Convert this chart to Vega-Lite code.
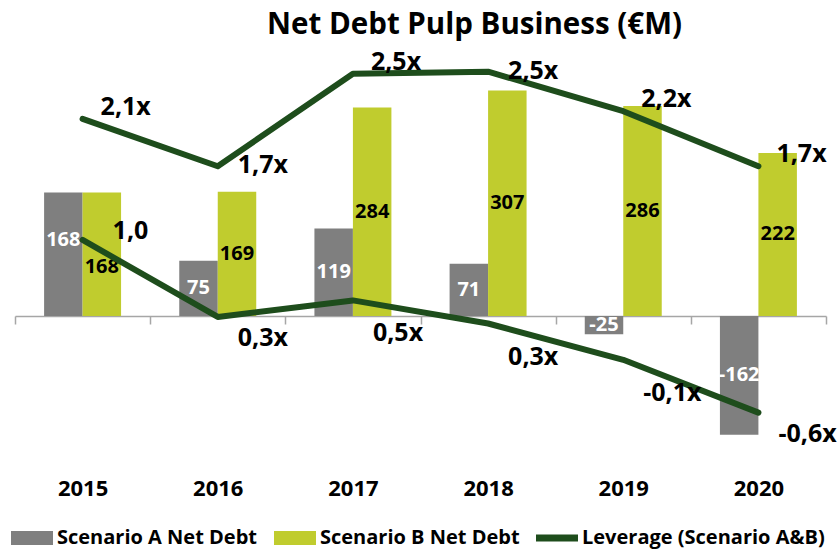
{
  "$schema": "https://vega.github.io/schema/vega-lite/v6.json",
  "width": 811,
  "height": 389,
  "autosize": {"type": "none"},
  "padding": {"left": 15, "top": 59, "right": 13, "bottom": 104},
  "background": "white",
  "title": {"text": "Net Debt Pulp Business (€M)", "font": "Open Sans", "fontSize": 29.5, "fontWeight": "bold", "color": "black", "anchor": "middle", "dx": 54, "offset": 9},
  "config": {"view": {"stroke": null}, "font": "Open Sans"},
  "datasets": {
    "debt": [
      {"year": "2015", "scenario": "A", "series": "Scenario A Net Debt", "value": 168},
      {"year": "2016", "scenario": "A", "series": "Scenario A Net Debt", "value": 75},
      {"year": "2017", "scenario": "A", "series": "Scenario A Net Debt", "value": 119},
      {"year": "2018", "scenario": "A", "series": "Scenario A Net Debt", "value": 71},
      {"year": "2019", "scenario": "A", "series": "Scenario A Net Debt", "value": -25},
      {"year": "2020", "scenario": "A", "series": "Scenario A Net Debt", "value": -162},
      {"year": "2015", "scenario": "B", "series": "Scenario B Net Debt", "value": 168},
      {"year": "2016", "scenario": "B", "series": "Scenario B Net Debt", "value": 169},
      {"year": "2017", "scenario": "B", "series": "Scenario B Net Debt", "value": 284},
      {"year": "2018", "scenario": "B", "series": "Scenario B Net Debt", "value": 307},
      {"year": "2019", "scenario": "B", "series": "Scenario B Net Debt", "value": 286},
      {"year": "2020", "scenario": "B", "series": "Scenario B Net Debt", "value": 222}
    ],
    "lev": [
      {"year": "2015", "scenario": "B", "leverage": 2.11, "label": "2,1x"},
      {"year": "2016", "scenario": "B", "leverage": 1.68, "label": "1,7x"},
      {"year": "2017", "scenario": "B", "leverage": 2.52, "label": "2,5x"},
      {"year": "2018", "scenario": "B", "leverage": 2.54, "label": "2,5x"},
      {"year": "2019", "scenario": "B", "leverage": 2.18, "label": "2,2x"},
      {"year": "2020", "scenario": "B", "leverage": 1.68, "label": "1,7x"},
      {"year": "2015", "scenario": "A", "leverage": 1.01, "label": "1,0"},
      {"year": "2016", "scenario": "A", "leverage": 0.31, "label": "0,3x"},
      {"year": "2017", "scenario": "A", "leverage": 0.46, "label": "0,5x"},
      {"year": "2018", "scenario": "A", "leverage": 0.25, "label": "0,3x"},
      {"year": "2019", "scenario": "A", "leverage": -0.08, "label": "-0,1x"},
      {"year": "2020", "scenario": "A", "leverage": -0.56, "label": "-0,6x"}
    ]
  },
  "encoding": {
    "x": {
      "field": "year", "type": "nominal",
      "scale": {"paddingInner": 0, "paddingOuter": 0},
      "axis": {"title": null, "orient": "bottom", "offset": -132, "domainColor": "#a6a6a6", "domainWidth": 1.5, "tickColor": "#a6a6a6", "tickWidth": 1.5, "tickSize": 8, "tickBand": "extent", "labelPadding": 154, "labelFont": "Open Sans", "labelFontSize": 22, "labelFontWeight": "bold", "labelColor": "black", "labelAngle": 0}
    }
  },
  "layer": [
    {
      "data": {"name": "debt"},
      "mark": {"type": "bar"},
      "encoding": {
        "xOffset": {"field": "scenario", "type": "nominal", "scale": {"paddingInner": 0, "paddingOuter": 0.756}},
        "y": {"field": "value", "type": "quantitative", "scale": {"domain": [-180, 350]}, "axis": null},
        "color": {
          "field": "series", "type": "nominal",
          "scale": {"domain": ["Scenario A Net Debt", "Scenario B Net Debt", "Leverage (Scenario A&B)"], "range": ["#7f7f7f", "#c0cc2e", "#1e4d1c"]},
          "legend": {
            "title": null, "orient": "none", "legendX": 7, "legendY": 469, "direction": "horizontal", "columns": 3,
            "symbolType": "M-3,-1H3V1H-3Z", "symbolSize": 196, "symbolStrokeWidth": 0,
            "labelFont": "Open Sans", "labelFontSize": 20, "labelFontWeight": "bold", "labelColor": "black", "labelOffset": 15, "labelLimit": 400, "columnPadding": 16,
            "encode": {"symbols": {"update": {"shape": {"signal": "datum.value === 'Leverage (Scenario A&B)' ? 'M-3,-0.5H3V0.5H-3Z' : 'M-3,-1H3V1H-3Z'"}, "fill": {"scale": "color", "field": "value"}, "strokeWidth": {"value": 0}}}}
          }
        }
      }
    },
    {
      "data": {"name": "debt"},
      "transform": [{"filter": "datum.year !== '2015'"}],
      "mark": {"type": "text", "fontSize": 20, "fontWeight": "bold", "baseline": "middle", "font": "Open Sans"},
      "encoding": {
        "xOffset": {"field": "scenario", "type": "nominal", "scale": {"paddingInner": 0, "paddingOuter": 0.756}},
        "y": {"field": "value", "type": "quantitative", "stack": "zero", "bandPosition": 0.5, "scale": {"domain": [-180, 350]}, "axis": null},
        "detail": {"field": "scenario"},
        "text": {"field": "value", "type": "nominal"},
        "color": {"condition": {"test": "datum.scenario === 'A'", "value": "white"}, "value": "black"}
      }
    },
    {
      "data": {"name": "debt"},
      "transform": [{"filter": "datum.year === '2015' && datum.scenario === 'A'"}],
      "mark": {"type": "text", "fontSize": 20, "fontWeight": "bold", "baseline": "middle", "font": "Open Sans", "dy": -14, "color": "white"},
      "encoding": {
        "xOffset": {"field": "scenario", "type": "nominal", "scale": {"domain": ["A", "B"], "paddingInner": 0, "paddingOuter": 0.756}},
        "y": {"field": "value", "type": "quantitative", "stack": "zero", "bandPosition": 0.5, "scale": {"domain": [-180, 350]}, "axis": null},
        "detail": {"field": "scenario"},
        "text": {"field": "value", "type": "nominal"}
      }
    },
    {
      "data": {"name": "debt"},
      "transform": [{"filter": "datum.year === '2015' && datum.scenario === 'B'"}],
      "mark": {"type": "text", "fontSize": 20, "fontWeight": "bold", "baseline": "middle", "font": "Open Sans", "dy": 13, "color": "black"},
      "encoding": {
        "xOffset": {"field": "scenario", "type": "nominal", "scale": {"domain": ["A", "B"], "paddingInner": 0, "paddingOuter": 0.756}},
        "y": {"field": "value", "type": "quantitative", "stack": "zero", "bandPosition": 0.5, "scale": {"domain": [-180, 350]}, "axis": null},
        "detail": {"field": "scenario"},
        "text": {"field": "value", "type": "nominal"}
      }
    },
    {
      "data": {"name": "lev"},
      "mark": {"type": "line", "strokeWidth": 6, "strokeCap": "round", "strokeJoin": "round"},
      "encoding": {
        "y": {"field": "leverage", "type": "quantitative", "scale": {"domain": [-0.882, 2.655]}, "axis": null},
        "detail": {"field": "scenario"},
        "color": {"datum": "Leverage (Scenario A&B)"}
      }
    },
    {
      "data": {"name": "lev"},
      "transform": [{"filter": "datum.scenario === 'B' && datum.year !== '2016' && datum.year !== '2018'"}],
      "mark": {"type": "text", "fontSize": 25, "fontWeight": "bold", "align": "left", "baseline": "middle", "dx": 18, "dy": -12, "font": "Open Sans", "color": "black"},
      "encoding": {
        "y": {"field": "leverage", "type": "quantitative", "scale": {"domain": [-0.882, 2.655]}, "axis": null},
        "text": {"field": "label"}
      }
    },
    {
      "data": {"name": "lev"},
      "transform": [{"filter": "datum.scenario === 'B' && (datum.year === '2016' || datum.year === '2018')"}],
      "mark": {"type": "text", "fontSize": 25, "fontWeight": "bold", "align": "left", "baseline": "middle", "dx": 20, "dy": -1, "font": "Open Sans", "color": "black"},
      "encoding": {
        "y": {"field": "leverage", "type": "quantitative", "scale": {"domain": [-0.882, 2.655]}, "axis": null},
        "text": {"field": "label"}
      }
    },
    {
      "data": {"name": "lev"},
      "transform": [{"filter": "datum.scenario === 'A' && (datum.year === '2016' || datum.year === '2020')"}],
      "mark": {"type": "text", "fontSize": 25, "fontWeight": "bold", "align": "left", "baseline": "middle", "dx": 20, "dy": 21, "font": "Open Sans", "color": "black"},
      "encoding": {
        "y": {"field": "leverage", "type": "quantitative", "scale": {"domain": [-0.882, 2.655]}, "axis": null},
        "text": {"field": "label"}
      }
    },
    {
      "data": {"name": "lev"},
      "transform": [{"filter": "datum.scenario === 'A' && (datum.year === '2017' || datum.year === '2018' || datum.year === '2019')"}],
      "mark": {"type": "text", "fontSize": 25, "fontWeight": "bold", "align": "left", "baseline": "middle", "dx": 20, "dy": 33, "font": "Open Sans", "color": "black"},
      "encoding": {
        "y": {"field": "leverage", "type": "quantitative", "scale": {"domain": [-0.882, 2.655]}, "axis": null},
        "text": {"field": "label"}
      }
    },
    {
      "data": {"name": "lev"},
      "transform": [{"filter": "datum.scenario === 'A' && datum.year === '2015'"}],
      "mark": {"type": "text", "fontSize": 25, "fontWeight": "bold", "align": "left", "baseline": "middle", "dx": 30, "dy": -9, "font": "Open Sans", "color": "black"},
      "encoding": {
        "y": {"field": "leverage", "type": "quantitative", "scale": {"domain": [-0.882, 2.655]}, "axis": null},
        "text": {"field": "label"}
      }
    }
  ],
  "resolve": {"scale": {"y": "independent"}}
}
